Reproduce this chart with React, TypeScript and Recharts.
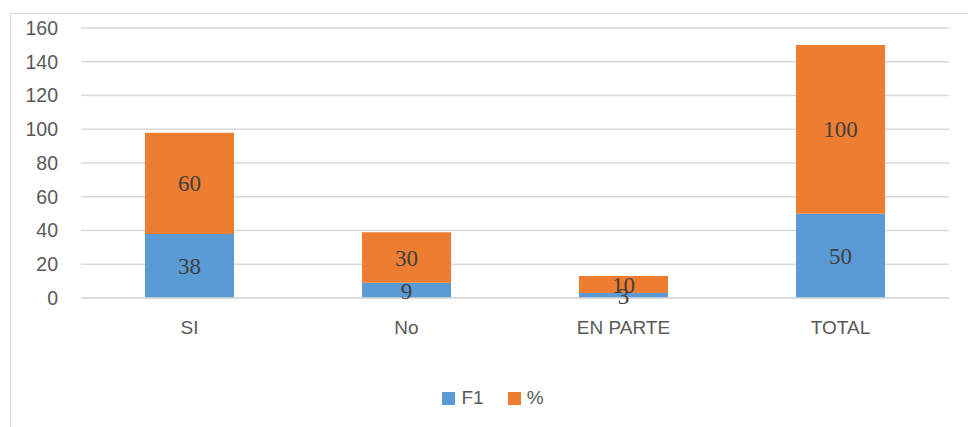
import { Bar, BarChart, CartesianGrid, LabelList, Legend, XAxis, YAxis } from "recharts";

const categories = ["SI", "No", "EN PARTE", "TOTAL"];
const f1Values = [38, 9, 3, 50];
const pctValues = [60, 30, 10, 100];
const yTicks = [0, 20, 40, 60, 80, 100, 120, 140, 160];

const data = categories.map((name, i) => ({ name, f1: f1Values[i], pct: pctValues[i] }));

const AXIS_FONT = "'Liberation Sans', Arial, sans-serif";
const LABEL_FONT = "'Liberation Serif', 'Times New Roman', serif";

export default function App() {
  return (
    <div style={{ position: "absolute", left: 0, top: 0, width: 968, height: 427, background: "#fff", overflow: "hidden" }}>
      <div
        style={{
          position: "absolute",
          left: 10,
          top: 13,
          width: 980,
          height: 440,
          border: "1.5px solid #d9d9d9",
          boxSizing: "border-box",
        }}
      />
      <BarChart
        width={968}
        height={427}
        data={data}
        margin={{ top: 28, right: 19, left: 0, bottom: 69 }}
        barCategoryGap="29.5%"
      >
        <CartesianGrid vertical={false} stroke="#d9d9d9" strokeWidth={1.5} />
        <XAxis
          dataKey="name"
          height={60}
          axisLine={{ stroke: "#d9d9d9", strokeWidth: 1.5 }}
          tickLine={false}
          tickMargin={17}
          tick={{ fontSize: 19, fill: "#595959", fontFamily: AXIS_FONT }}
        />
        <YAxis
          width={81}
          domain={[0, 160]}
          ticks={yTicks}
          axisLine={false}
          tickLine={false}
          tickMargin={17}
          tick={{ fontSize: 19.5, fill: "#595959", fontFamily: AXIS_FONT }}
        />
        <Legend
          verticalAlign="middle"
          align="center"
          iconType="square"
          iconSize={13}
          itemSorter="dataKey"
          wrapperStyle={{ top: 387, left: 14, width: 968, fontSize: 19, fontFamily: AXIS_FONT }}
          formatter={(value) => (
            <span style={{ color: "#595959", marginLeft: 2, marginRight: value === "F1" ? 14 : 0 }}>{value}</span>
          )}
        />
        <Bar dataKey="f1" name="F1" stackId="a" fill="#5B9BD5" isAnimationActive={false}>
          <LabelList dataKey="f1" position="center" fill="#404040" fontSize={23} fontFamily={LABEL_FONT} />
        </Bar>
        <Bar dataKey="pct" name="%" stackId="a" fill="#ED7D31" isAnimationActive={false}>
          <LabelList dataKey="pct" position="center" fill="#404040" fontSize={23} fontFamily={LABEL_FONT} />
        </Bar>
      </BarChart>
    </div>
  );
}
